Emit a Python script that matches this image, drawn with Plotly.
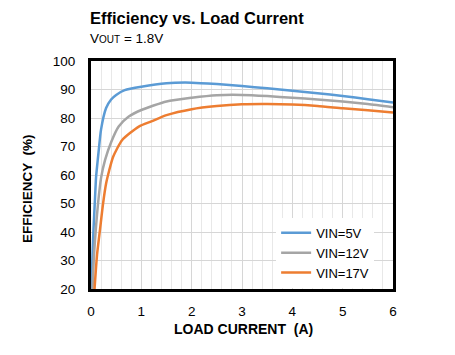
import plotly.graph_objects as go

# Load current (A) and efficiency (%) per input voltage
i_5v = [0.01, 0.03, 0.05, 0.08, 0.1, 0.15, 0.2, 0.3, 0.4, 0.5, 0.67, 1.0, 1.5, 2.0, 2.5, 3.0, 3.5, 4.0, 4.5, 5.0, 5.5, 6.0]
eff_5v = [20, 32, 41, 52, 59, 68, 76, 83.5, 86.5, 88.1, 89.8, 91.0, 92.2, 92.4, 91.9, 91.2, 90.4, 89.6, 88.7, 87.7, 86.6, 85.4]

i_12v = [0.03, 0.06, 0.1, 0.14, 0.2, 0.28, 0.4, 0.55, 0.75, 1.0, 1.5, 2.0, 2.5, 3.0, 3.5, 4.0, 4.5, 5.0, 5.5, 6.0]
eff_12v = [20, 32, 42, 50, 59, 65.3, 71.5, 77, 80.5, 82.8, 85.8, 87.1, 88.0, 88.1, 87.7, 87.1, 86.5, 85.8, 84.9, 83.8]

i_17v = [0.07, 0.12, 0.18, 0.24, 0.3, 0.36, 0.44, 0.62, 0.95, 1.2, 1.5, 2.0, 2.5, 3.0, 3.5, 4.0, 4.5, 5.0, 5.5, 6.0]
eff_17v = [20, 32, 41, 50, 57, 61.5, 66.4, 72.3, 77, 78.8, 81, 83.1, 84.2, 84.8, 84.9, 84.7, 84.2, 83.4, 82.7, 81.9]

series_names = ["VIN=5V", "VIN=12V", "VIN=17V"]
colors = ["#5B9BD5", "#A5A5A5", "#ED7D31"]

FONT = "Liberation Sans, Arial, sans-serif"

W, H = 455, 355
L, R, T, B = 83, 70, 53, 74

fig = go.Figure()
for x, y, name, c in zip([i_5v, i_12v, i_17v], [eff_5v, eff_12v, eff_17v], series_names, colors):
    fig.add_trace(go.Scatter(x=x, y=y, mode="lines", name=name,
                             line=dict(color=c, width=2.5, shape="spline", smoothing=0.6)))

fig.update_layout(
    width=W, height=H,
    margin=dict(l=L, r=R, t=T, b=B, autoexpand=False),
    paper_bgcolor="white", plot_bgcolor="white",
    font=dict(family=FONT, size=13, color="black"),
    showlegend=True,
    legend=dict(x=0.613, y=0.005, xanchor="left", yanchor="bottom",
                bgcolor="white", font=dict(size=13, family=FONT),
                tracegroupgap=0),
)

pw = W - L - R
ph = H - T - B


def px(xp):
    return (xp - L) / pw


def py(yp):
    return 1 - (yp - T) / ph


# titles (positions in figure pixels)
fig.add_annotation(text="<b>Efficiency vs. Load Current</b>", xref="paper", yref="paper",
                   x=px(80), y=py(10), xanchor="left", yanchor="middle",
                   showarrow=False, font=dict(size=16.5, family=FONT))
fig.add_annotation(text="V<span style='font-size:10px'>OUT</span> = 1.8V", xref="paper", yref="paper",
                   x=px(80), y=py(31), xanchor="left", yanchor="middle",
                   showarrow=False, font=dict(size=13.5, family=FONT))
fig.add_annotation(text="<b>LOAD CURRENT  (A)</b>", xref="paper", yref="paper",
                   x=px(235), y=py(321), xanchor="center", yanchor="middle",
                   showarrow=False, font=dict(size=14, family=FONT))
fig.add_annotation(text="<b>EFFICIENCY  (%)</b>", xref="paper", yref="paper",
                   x=px(19), y=py(181), xanchor="center", yanchor="middle", textangle=-90,
                   showarrow=False, font=dict(size=13.5, family=FONT))

fig.update_xaxes(
    range=[0, 6], dtick=1, tick0=0,
    showgrid=True, gridcolor="#D6D6D6", gridwidth=1,
    minor=dict(dtick=0.2, tick0=0, showgrid=True, gridcolor="#E8E8E8", gridwidth=1),
    showline=True, linecolor="black", linewidth=3, mirror=True,
    ticks="", zeroline=False, ticklabelstandoff=8,
    tickfont=dict(size=13.5, family=FONT),
)
fig.update_yaxes(
    range=[20, 100], dtick=10, tick0=20,
    showgrid=True, gridcolor="#D6D6D6", gridwidth=1,
    showline=True, linecolor="black", linewidth=3, mirror=True,
    ticks="", zeroline=False, ticklabelstandoff=10,
    tickfont=dict(size=13.5, family=FONT),
)

fig.write_html("out.html")
